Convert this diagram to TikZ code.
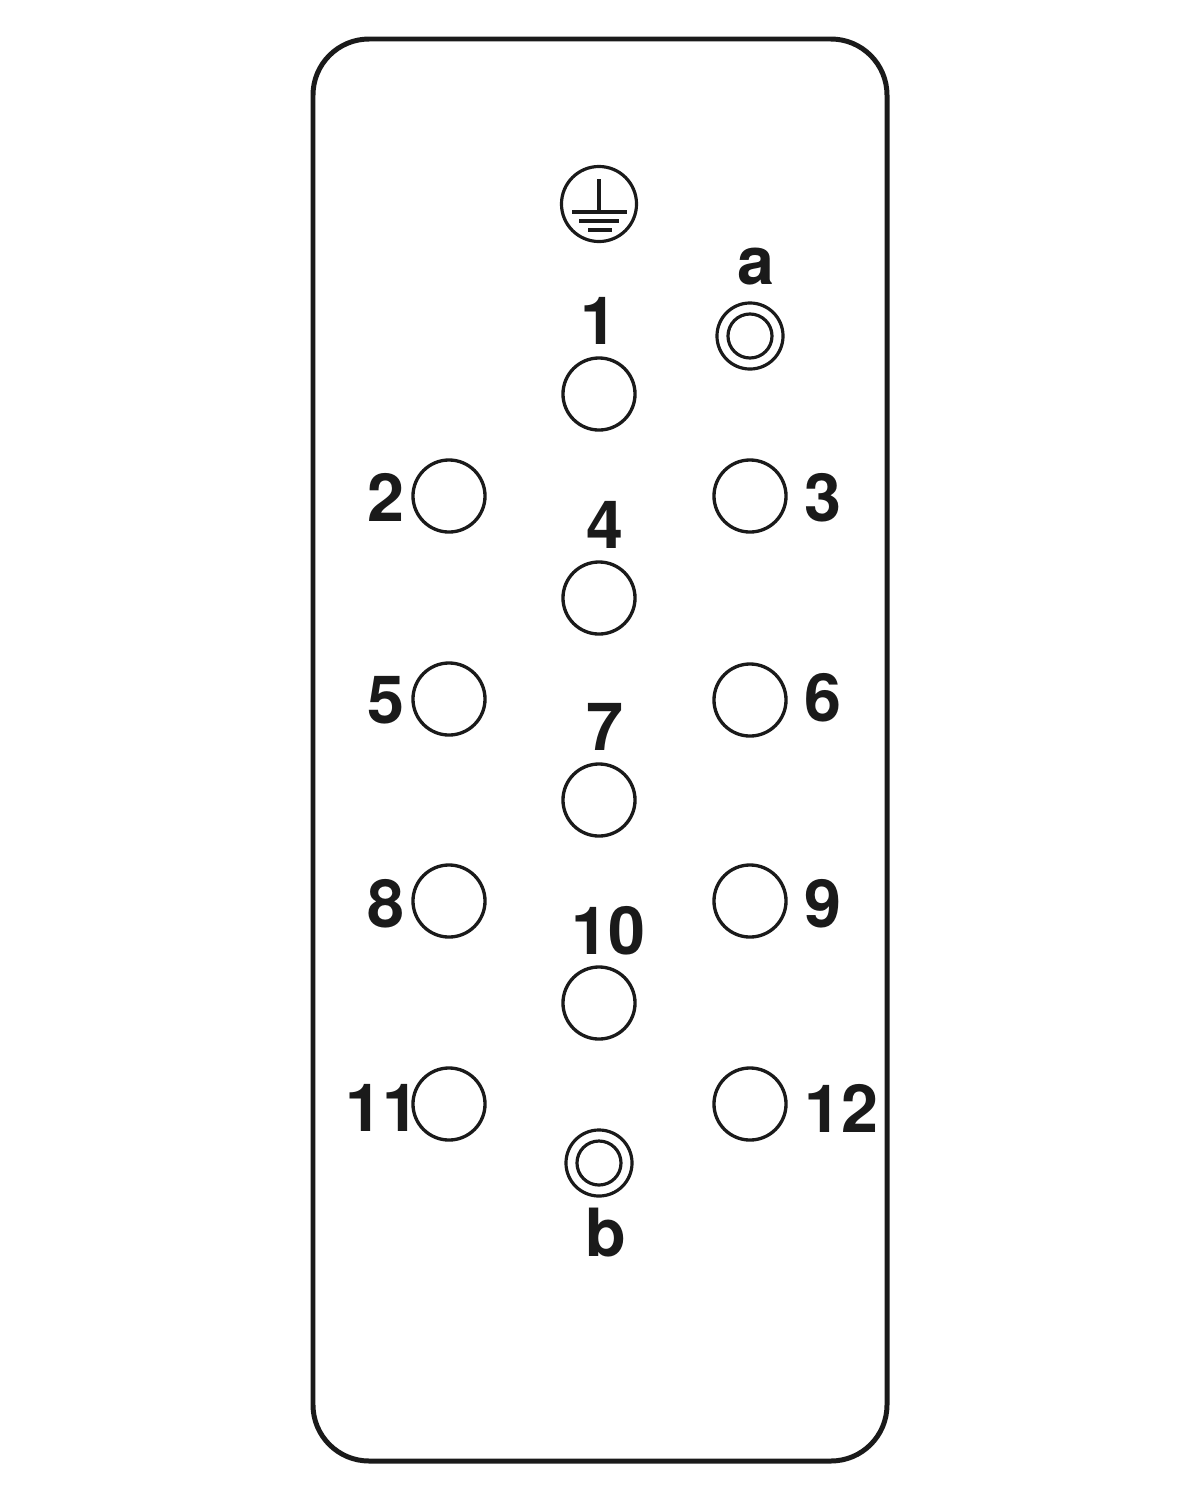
\documentclass[tikz,border=0pt]{standalone}
\usepackage{fontspec}
\setmainfont{TeX Gyre Heros}
\definecolor{ink}{HTML}{1A1A1A}
\tikzset{
  hole/.style={circle,draw=ink,line width=2.4pt,minimum size=0.72in,inner sep=0pt},
  num/.style={font=\fontsize{48}{48}\selectfont\bfseries,text=ink,inner sep=0pt,anchor=center},
  ring/.style={circle,draw=ink,line width=2.3pt,inner sep=0pt},
  earth/.style={draw=ink,line width=2.8pt}
}
\begin{document}
\begin{tikzpicture}[x=0.01in,y=-0.01in]
\useasboundingbox (0,0) rectangle (1200,1500);
\fill[white] (0,0) rectangle (1200,1500);
\draw[ink,line width=3.6pt,rounded corners=0.56in] (313,39) rectangle (887,1461);
\node[ring,minimum size=0.75in] (pe) at (599,204) {};
\coordinate (peTop) at (599,179);
\coordinate (peBot) at (599,212);
\coordinate (g1l) at (572,212); \coordinate (g1r) at (627,212);
\coordinate (g2l) at (579,221); \coordinate (g2r) at (619,221);
\coordinate (g3l) at (588,230); \coordinate (g3r) at (612,230);
\draw[earth] (peTop) -- (peBot);
\draw[earth] (g1l) -- (g1r);
\draw[earth] (g2l) -- (g2r);
\draw[earth] (g3l) -- (g3r);
\node[hole] (h1) at (599,394) {};
\node[hole] (h2) at (449,496) {};
\node[hole] (h3) at (750,496) {};
\node[hole] (h4) at (599,598) {};
\node[hole] (h5) at (449,699) {};
\node[hole] (h6) at (750,700) {};
\node[hole] (h7) at (599,800) {};
\node[hole] (h8) at (449,901) {};
\node[hole] (h9) at (750,901) {};
\node[hole] (h10) at (599,1003) {};
\node[hole] (h11) at (449,1104) {};
\node[hole] (h12) at (750,1104) {};
\node[ring,minimum size=0.66in] (ao) at (750,336) {};
\node[ring,minimum size=0.44in] (ai) at (750,336) {};
\node[ring,minimum size=0.66in] (bo) at (599,1163) {};
\node[ring,minimum size=0.44in] (bi) at (599,1163) {};
\node[num] (n1) at (599,321) {1};
\node[num] (n2) at (386,497) {2};
\node[num] (n3) at (823,498) {3};
\node[num] (n4) at (605,525) {4};
\node[num] (n5) at (386,700) {5};
\node[num] (n6) at (823,698) {6};
\node[num] (n7) at (605,727) {7};
\node[num] (n8) at (386,904) {8};
\node[num] (n9) at (823,904) {9};
\node[num] (n10) at (608,931) {10};
\node[num] (n11) at (382,1108) {11};
\node[num] (n12) at (841,1108) {12};
\node[num] (na) at (756,267) {a};
\node[num] (nb) at (606,1233) {b};
\end{tikzpicture}
\end{document}
